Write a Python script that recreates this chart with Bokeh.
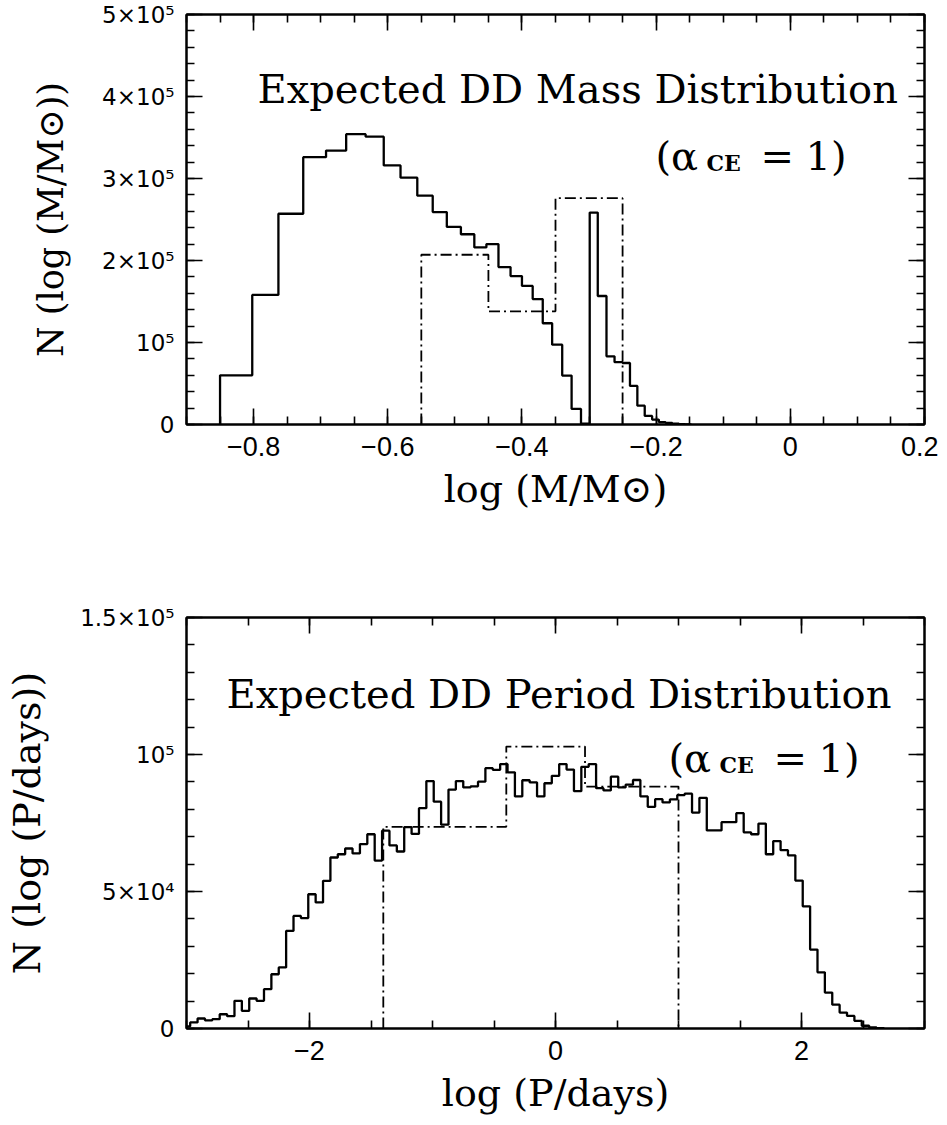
import numpy as np
from bokeh.plotting import figure
from bokeh.models import Range1d, FixedTicker, LinearAxis, Label
from bokeh.layouts import column
from bokeh.embed import file_html
from bokeh.resources import INLINE

# ---------------- data ----------------
mass_edges = [-0.850, -0.802, -0.763, -0.726, -0.692, -0.662, -0.633, -0.606, -0.581,
              -0.556, -0.533, -0.512, -0.491, -0.471, -0.453, -0.435, -0.417, -0.400,
              -0.384, -0.369, -0.355, -0.340, -0.326, -0.312, -0.299, -0.287, -0.274,
              -0.262, -0.250, -0.239, -0.228, -0.217, -0.206, -0.196, -0.186, -0.176,
              -0.166, -0.157, -0.148]
mass_counts = [60000, 158000, 257000, 326000, 334000, 354000, 351000, 316000, 301000,
               279000, 259000, 241000, 232000, 216000, 220000, 192000, 181000, 169000,
               153000, 123500, 97400, 59700, 19000, 1000, 258500, 156700, 83200,
               76000, 75000, 47000, 23000, 10500, 6000, 3000, 2000, 1000,
               500, 200]
mass_obs_edges = [-0.55, -0.45, -0.35, -0.25]
mass_obs_counts = [207000, 138000, 276000]
mass_xticks = [-0.8, -0.6, -0.4, -0.2, 0.0, 0.2]
mass_xtick_labels = ["\u22120.8", "\u22120.6", "\u22120.4", "\u22120.2", "0", "0.2"]
mass_xminor = [round(-0.9 + 0.05 * i, 2) for i in range(23)]
mass_yticks = [0, 100000, 200000, 300000, 400000, 500000]
mass_ytick_labels = ["0", "10\u2075", "2\u00d710\u2075", "3\u00d710\u2075", "4\u00d710\u2075", "5\u00d710\u2075"]
mass_yminor = [20000 * i for i in range(26)]

period_edges = [-3.0] + [round(-2.97 + 0.06 * k, 2) for k in range(95)]
period_counts = [800,
                 2200, 3650, 3000, 3400, 5200, 4500, 10100, 6450, 10950, 10100,
                 14350, 19800, 22300, 35600, 41100, 40300, 49000, 46000, 53900, 62400,
                 63600, 65700, 63900, 67300, 70900, 61300, 72200, 66800, 64600, 73500,
                 71000, 80400, 90300, 82800, 74400, 87200, 90300, 88000, 88400, 90100,
                 95000, 94400, 96500, 93500, 84700, 90600, 89800, 84700, 89500, 92200,
                 96500, 94500, 86600, 95500, 96500, 87700, 86900, 91900, 88000, 89000,
                 90700, 84700, 80900, 83700, 82500, 83600, 85200, 85700, 78800, 84200,
                 72300, 72300, 75300, 75300, 78600, 71600, 70900, 74800, 63600, 68400,
                 65100, 63200, 54000, 44600, 28800, 20500, 13100, 8700, 5800, 4600,
                 2800, 1000, 400, 100]
period_obs_edges = [-1.4, -0.4, 0.24, 1.0]
period_obs_counts = [73600, 102900, 88300]
period_xticks = [-2, 0, 2]
period_xtick_labels = ["\u22122", "0", "2"]
period_xminor = [-3 + 0.5 * i for i in range(13)]
period_yticks = [0, 50000, 100000, 150000]
period_ytick_labels = ["0", "5\u00d710\u2074", "10\u2075", "1.5\u00d710\u2075"]
period_yminor = [10000 * i for i in range(16)]

SERIF = "DejaVu Serif"


def hist_path(edges, counts):
    xs, ys = [edges[0]], [0]
    for i, c in enumerate(counts):
        xs += [edges[i], edges[i + 1]]
        ys += [c, c]
    xs.append(edges[-1])
    ys.append(0)
    return xs, ys


def tick_style(ax):
    ax.axis_line_width = 2
    ax.major_tick_in = 16
    ax.major_tick_out = 0
    ax.minor_tick_in = 8
    ax.minor_tick_out = 0
    ax.major_tick_line_width = 1.6
    ax.minor_tick_line_width = 1.6


def style_axes(p, xt, xl, xm, yt, yl, ym, xlabel, ylabel, ylabel_size):
    xa, ya = p.xaxis[0], p.yaxis[0]
    xa.ticker = FixedTicker(ticks=xt, minor_ticks=xm)
    xa.major_label_overrides = {t: s for t, s in zip(xt, xl)}
    ya.ticker = FixedTicker(ticks=yt, minor_ticks=ym)
    ya.major_label_overrides = {t: s for t, s in zip(yt, yl)}
    for ax in [xa, ya]:
        tick_style(ax)
        ax.major_label_text_color = "black"
        ax.axis_label_text_font = SERIF
        ax.axis_label_text_font_style = "normal"
        ax.axis_label_text_color = "black"
    xa.major_label_text_font = "Liberation Sans"
    xa.major_label_text_font_size = "27px"
    ya.major_label_text_font = "DejaVu Sans"
    ya.major_label_text_font_size = "23px"
    xa.major_label_standoff = 12
    ya.major_label_standoff = 12
    xa.axis_label = xlabel
    ya.axis_label = ylabel
    xa.axis_label_text_font_size = "38px"
    ya.axis_label_text_font_size = ylabel_size
    xa.axis_label_standoff = 8
    ya.axis_label_standoff = 28
    # mirrored ticks on top and right, labels not drawn
    top = LinearAxis(ticker=FixedTicker(ticks=xt, minor_ticks=xm))
    right = LinearAxis(ticker=FixedTicker(ticks=yt, minor_ticks=ym))
    for ax in [top, right]:
        tick_style(ax)
        ax.major_label_text_font_size = "1px"
        ax.major_label_text_color = None
        ax.major_label_standoff = 0
    p.add_layout(top, "above")
    p.add_layout(right, "right")


def make_fig(height, btop, bbottom, xr, yr):
    p = figure(width=938, height=height, x_range=Range1d(*xr), y_range=Range1d(*yr),
               output_backend="svg", toolbar_location=None,
               min_border_left=186, min_border_right=14,
               min_border_top=btop, min_border_bottom=bbottom)
    p.grid.visible = False
    p.outline_line_color = "black"
    p.outline_line_width = 2
    p.background_fill_color = "white"
    p.border_fill_color = "white"
    return p


def lab(p, x, y, text, size, style="normal"):
    p.add_layout(Label(x=x, y=y, text=text, text_font=SERIF, text_font_size=size,
                       text_font_style=style, text_align="left", text_baseline="alphabetic",
                       text_color="black"))


# ---------------- top figure: mass ----------------
p1 = make_fig(568, 14, 144, (-0.9, 0.2), (0, 500000))
style_axes(p1, mass_xticks, mass_xtick_labels, mass_xminor,
           mass_yticks, mass_ytick_labels, mass_yminor,
           "log (M/M\u2299)", "N (log (M/M\u2299))", "35px")
xs, ys = hist_path(mass_edges, mass_counts)
p1.line(xs, ys, line_color="black", line_width=2.3)
xs, ys = hist_path(mass_obs_edges, mass_obs_counts)
p1.line(xs, ys, line_color="black", line_width=1.8, line_dash="11 4 2 4")


def tx(px):
    return -0.9 + (px - 186) / 738 * 1.1


def ty(py):
    return (424 - py) / 410 * 500000


lab(p1, tx(257), ty(88), "Expected DD Mass Distribution", "40px")
lab(p1, tx(655), ty(155), "(\u03b1", "40px")
lab(p1, tx(706), ty(162), "CE", "22px", style="bold")
lab(p1, tx(760), ty(155), "=", "40px")
lab(p1, tx(805), ty(155), "1)", "40px")

# ---------------- bottom figure: period ----------------
p2 = make_fig(557, 49, 97, (-3, 3), (0, 150000))
style_axes(p2, period_xticks, period_xtick_labels, period_xminor,
           period_yticks, period_ytick_labels, period_yminor,
           "log (P/days)", "N (log (P/days))", "38px")
xs, ys = hist_path(period_edges, period_counts)
p2.line(xs, ys, line_color="black", line_width=2.3)
xs, ys = hist_path(period_obs_edges, period_obs_counts)
p2.line(xs, ys, line_color="black", line_width=1.8, line_dash="11 4 2 4")


def bx(px):
    return -3 + (px - 186) / 738 * 6


def by(py):
    return (1028 - py) / 411 * 150000


lab(p2, bx(226), by(693), "Expected DD Period Distribution", "40px")
lab(p2, bx(668), by(757), "(\u03b1", "40px")
lab(p2, bx(719), by(764), "CE", "22px", style="bold")
lab(p2, bx(773), by(757), "=", "40px")
lab(p2, bx(818), by(757), "1)", "40px")

layout = column(p1, p2)
open("out.html", "w").write(file_html(layout, INLINE))
